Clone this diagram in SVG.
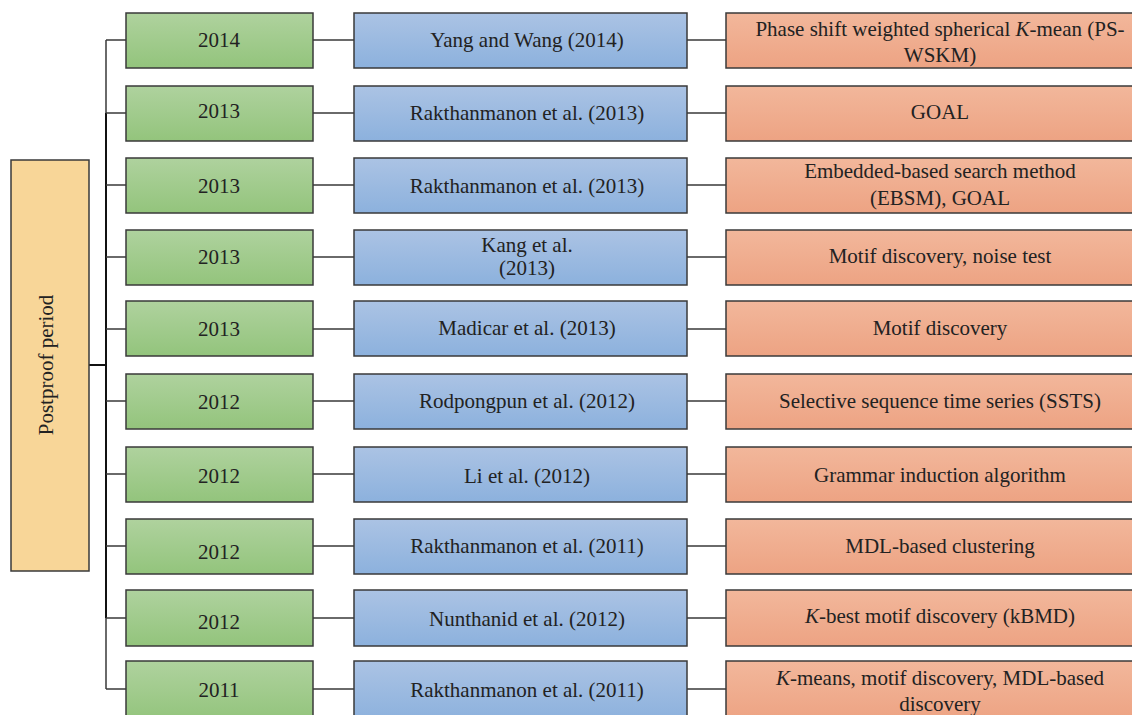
<svg xmlns="http://www.w3.org/2000/svg" width="1132" height="715" viewBox="0 0 1132 715">
  <defs>
    <linearGradient id="gGreen" x1="0" y1="0" x2="0" y2="1">
      <stop offset="0" stop-color="#afd29e"/>
      <stop offset="1" stop-color="#93c47c"/>
    </linearGradient>
    <linearGradient id="gBlue" x1="0" y1="0" x2="0" y2="1">
      <stop offset="0" stop-color="#abc3e4"/>
      <stop offset="1" stop-color="#8cb1dd"/>
    </linearGradient>
    <linearGradient id="gOrange" x1="0" y1="0" x2="0" y2="1">
      <stop offset="0" stop-color="#f2b79b"/>
      <stop offset="1" stop-color="#eda383"/>
    </linearGradient>
  </defs>
  <style>
    .box { stroke: #3a3a3a; stroke-width: 1.5; }
    .yr { fill: url(#gGreen); }
    .au { fill: url(#gBlue); }
    .me { fill: url(#gOrange); }
    .root { fill: #f8d698; }
    text { font-family: "Liberation Serif", "Times New Roman", serif; font-size: 21px; fill: #222; text-anchor: middle; }
    .ln { stroke: #3a3a3a; stroke-width: 1.5; fill: none; }
    .trunk { stroke: #111; stroke-width: 2; fill: none; }
  </style>

  <!-- connectors -->
  <g id="connectors">
    <path class="ln" d="M106 40 V113 M106 618 V689"/>
    <path class="trunk" d="M106 113 V618 M89 365 H106"/>
    <path class="ln" d="M106 40 H126 M106 113 H126 M106 185 H126 M106 257 H126 M106 329 H126 M106 401 H126 M106 474 H126 M106 546 H126 M106 618 H126 M106 689 H126"/>
    <path class="ln" d="M313 40 H354 M313 113 H354 M313 185 H354 M313 257 H354 M313 329 H354 M313 401 H354 M313 474 H354 M313 546 H354 M313 618 H354 M313 689 H354"/>
    <path class="ln" d="M687 40 H726 M687 113 H726 M687 185 H726 M687 257 H726 M687 329 H726 M687 401 H726 M687 474 H726 M687 546 H726 M687 618 H726 M687 689 H726"/>
  </g>

  <!-- root -->
  <g id="root">
    <rect class="box root" x="11" y="160" width="78" height="411"/>
    <text transform="translate(53 365) rotate(-90)">Postproof period</text>
  </g>

  <!-- row 1 -->
  <g id="y1"><rect class="box yr" x="126" y="13" width="187" height="55"/><text x="219" y="47">2014</text></g>
  <g id="a1"><rect class="box au" x="354" y="13" width="333" height="55"/><text x="527" y="47">Yang and Wang (2014)</text></g>
  <g id="m1"><rect class="box me" x="726" y="13" width="428" height="55"/><text x="940" y="36">Phase shift weighted spherical <tspan font-style="italic">K</tspan>-mean (PS-</text><text x="940" y="62">WSKM)</text></g>

  <!-- row 2 -->
  <g id="y2"><rect class="box yr" x="126" y="86" width="187" height="55"/><text x="219" y="118">2013</text></g>
  <g id="a2"><rect class="box au" x="354" y="86" width="333" height="55"/><text x="527" y="120">Rakthanmanon et al. (2013)</text></g>
  <g id="m2"><rect class="box me" x="726" y="86" width="428" height="55"/><text x="940" y="119">GOAL</text></g>

  <!-- row 3 -->
  <g id="y3"><rect class="box yr" x="126" y="158" width="187" height="55"/><text x="219" y="193">2013</text></g>
  <g id="a3"><rect class="box au" x="354" y="158" width="333" height="55"/><text x="527" y="193">Rakthanmanon et al. (2013)</text></g>
  <g id="m3"><rect class="box me" x="726" y="158" width="428" height="55"/><text x="940" y="178">Embedded-based search method</text><text x="940" y="205">(EBSM), GOAL</text></g>

  <!-- row 4 -->
  <g id="y4"><rect class="box yr" x="126" y="230" width="187" height="55"/><text x="219" y="264">2013</text></g>
  <g id="a4"><rect class="box au" x="354" y="230" width="333" height="55"/><text x="527" y="252">Kang et al.</text><text x="527" y="275">(2013)</text></g>
  <g id="m4"><rect class="box me" x="726" y="230" width="428" height="55"/><text x="940" y="263">Motif discovery, noise test</text></g>

  <!-- row 5 -->
  <g id="y5"><rect class="box yr" x="126" y="301" width="187" height="55"/><text x="219" y="336">2013</text></g>
  <g id="a5"><rect class="box au" x="354" y="301" width="333" height="55"/><text x="527" y="335">Madicar et al. (2013)</text></g>
  <g id="m5"><rect class="box me" x="726" y="301" width="428" height="55"/><text x="940" y="335">Motif discovery</text></g>

  <!-- row 6 -->
  <g id="y6"><rect class="box yr" x="126" y="374" width="187" height="55"/><text x="219" y="409">2012</text></g>
  <g id="a6"><rect class="box au" x="354" y="374" width="333" height="55"/><text x="527" y="408">Rodpongpun et al. (2012)</text></g>
  <g id="m6"><rect class="box me" x="726" y="374" width="428" height="55"/><text x="940" y="408">Selective sequence time series (SSTS)</text></g>

  <!-- row 7 -->
  <g id="y7"><rect class="box yr" x="126" y="447" width="187" height="55"/><text x="219" y="483">2012</text></g>
  <g id="a7"><rect class="box au" x="354" y="447" width="333" height="55"/><text x="527" y="483">Li et al. (2012)</text></g>
  <g id="m7"><rect class="box me" x="726" y="447" width="428" height="55"/><text x="940" y="482">Grammar induction algorithm</text></g>

  <!-- row 8 -->
  <g id="y8"><rect class="box yr" x="126" y="519" width="187" height="55"/><text x="219" y="559">2012</text></g>
  <g id="a8"><rect class="box au" x="354" y="519" width="333" height="55"/><text x="527" y="553">Rakthanmanon et al. (2011)</text></g>
  <g id="m8"><rect class="box me" x="726" y="519" width="428" height="55"/><text x="940" y="553">MDL-based clustering</text></g>

  <!-- row 9 -->
  <g id="y9"><rect class="box yr" x="126" y="590" width="187" height="56"/><text x="219" y="629">2012</text></g>
  <g id="a9"><rect class="box au" x="354" y="590" width="333" height="56"/><text x="527" y="626">Nunthanid et al. (2012)</text></g>
  <g id="m9"><rect class="box me" x="726" y="590" width="428" height="56"/><text x="940" y="623"><tspan font-style="italic">K</tspan>-best motif discovery (kBMD)</text></g>

  <!-- row 10 -->
  <g id="y10"><rect class="box yr" x="126" y="661" width="187" height="60"/><text x="219" y="697">2011</text></g>
  <g id="a10"><rect class="box au" x="354" y="661" width="333" height="60"/><text x="527" y="697">Rakthanmanon et al. (2011)</text></g>
  <g id="m10"><rect class="box me" x="726" y="661" width="428" height="60"/><text x="940" y="685"><tspan font-style="italic">K</tspan>-means, motif discovery, MDL-based</text><text x="940" y="711">discovery</text></g>
</svg>
